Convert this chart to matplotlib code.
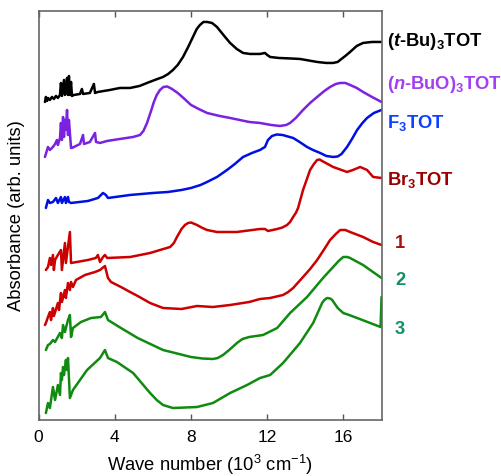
import matplotlib
matplotlib.use("Agg")
import matplotlib.pyplot as plt

plt.rcParams['font.family'] = ['Liberation Sans', 'DejaVu Sans']
plt.rcParams['mathtext.fontset'] = 'custom'
plt.rcParams['mathtext.rm'] = 'Liberation Sans'
plt.rcParams['mathtext.it'] = 'Liberation Sans:italic:bold'
plt.rcParams['mathtext.bf'] = 'Liberation Sans:bold'

# ---- data (wave number in 10^3 cm^-1, absorbance in arb. units, offset traces) ----
tbu_x = [0.33, 0.38, 0.44, 0.49, 0.59, 0.70, 0.80, 0.91, 1.01, 1.12, 1.17, 1.22, 1.33, 1.38, 1.43, 1.49, 1.54,
         1.59, 1.64, 1.70, 1.75, 1.85, 2.17, 2.27, 2.33, 2.69, 2.90, 2.96, 3.11, 3.74, 4.27, 4.80, 5.30, 5.69,
         6.10, 6.53, 6.80, 7.05, 7.30, 7.58, 7.85, 8.10, 8.30, 8.47, 8.65, 8.84, 9.10, 9.36, 9.70, 10.05,
         10.40, 10.73, 11.10, 11.62, 11.88, 12.00, 12.15, 12.60, 13.20, 13.72, 14.62, 15.10, 15.46, 15.70,
         15.83, 16.10, 16.35, 16.70, 17.03, 17.50, 18.0]
tbu_y = [318, 323, 319, 322, 320, 323, 321, 324, 322, 325, 337, 324, 340, 325, 330, 342, 325,
         344, 325, 338, 324, 325, 326, 331, 326, 327, 336, 327, 328, 330, 332, 332, 334, 337,
         340, 343, 346, 350, 355, 363, 373, 383, 391, 395, 398, 398, 397, 393, 385, 377,
         371, 367, 366, 366, 367, 365, 363, 362, 361.5, 361, 358, 357, 357, 358,
         360, 364, 368, 374, 377, 378, 378]

nbuo_x = [0.33, 0.49, 0.59, 0.75, 0.86, 0.96, 1.01, 1.12, 1.17, 1.22, 1.28, 1.33, 1.38, 1.43, 1.49, 1.54, 1.59,
          1.64, 1.70, 1.75, 2.17, 2.33, 2.38, 2.69, 2.96, 3.01, 3.22, 3.59, 4.27, 4.96, 5.32, 5.50, 5.69, 5.90,
          6.05, 6.20, 6.37, 6.55, 6.75, 7.00, 7.30, 7.60, 8.00, 8.40, 8.84, 9.50, 10.05, 11.05, 11.62, 12.20,
          12.67, 13.00, 13.20, 13.50, 13.88, 14.25, 14.62, 15.00, 15.30, 15.60, 15.83, 16.10, 16.35, 16.70,
          17.03, 17.50, 18.0]
nbuo_y = [263, 273, 270, 273, 276, 280, 275, 282, 297, 280, 303, 283, 300, 290, 310, 285, 300,
          287, 272, 272, 276, 285, 276, 278, 287, 278, 277, 279, 281, 283, 285, 289, 297, 309,
          318, 325, 330, 333, 333.5, 331, 327, 322, 315, 311, 307, 304, 302, 298, 297, 295,
          294, 295, 297, 302, 310, 317, 323, 329, 333, 336, 337, 337, 335, 332,
          328, 323, 318]

f3_x = [0.38, 0.49, 0.59, 0.75, 0.91, 1.01, 1.17, 1.22, 1.38, 1.43, 1.54, 1.59, 1.70, 2.59, 3.11, 3.38, 3.53,
        3.64, 4.80, 6.00, 6.79, 7.50, 8.00, 8.50, 8.84, 9.36, 9.89, 10.30, 10.73, 11.20, 11.62, 11.88, 12.04,
        12.25, 12.50, 12.80, 13.36, 13.70, 14.09, 14.40, 14.78, 15.10, 15.46, 15.70, 15.90, 16.19, 16.45,
        16.72, 17.00, 17.24, 17.60, 18.0]
f3_y = [212, 220, 217, 218, 222, 217, 223, 217, 223, 217, 223, 218, 217, 219, 222, 227, 225,
        222, 225, 227, 228, 230, 232, 235, 238, 243, 250, 256, 263, 267, 270, 273, 280,
        284, 285.5, 285, 282, 278, 273, 270, 267, 264, 263, 263.5, 266, 273, 281,
        290, 297, 302, 307, 310]

br3_x = [0.38, 0.49, 0.59, 0.65, 0.75, 0.80, 0.86, 1.01, 1.17, 1.22, 1.38, 1.43, 1.64, 1.70, 2.59, 3.00, 3.11,
         3.22, 3.38, 3.48, 3.60, 4.80, 5.85, 6.90, 7.10, 7.26, 7.50, 7.68, 7.85, 8.00, 8.31, 8.60, 8.84, 9.36,
         10.41, 11.62, 11.88, 12.04, 12.52, 12.80, 13.04, 13.20, 13.36, 13.50, 13.62, 13.88, 14.25, 14.45,
         14.62, 14.75, 14.88, 15.46, 16.19, 16.50, 16.88, 17.24, 17.56, 18.0]
br3_y = [150, 153, 162, 155, 165, 150, 160, 165, 170, 150, 177, 157, 188, 157, 160, 162, 165,
         158, 163, 165, 162, 163, 167, 173, 177, 183, 191, 195, 197, 197.5, 195, 192, 190, 188,
         188, 191, 191, 189, 191, 192.5, 195, 198, 203, 207, 212, 230, 250, 256,
         260, 260.5, 259, 253, 248, 250, 253, 250, 243, 242]

c1_x = [0.33, 0.38, 0.49, 0.59, 0.65, 0.75, 0.80, 1.01, 1.07, 1.17, 1.22, 1.38, 1.43, 1.54, 1.64, 1.70, 1.80,
        1.96, 2.43, 2.96, 3.22, 3.48, 3.64, 3.80, 4.32, 4.80, 5.20, 5.85, 6.53, 7.50, 8.31, 9.15, 10.05, 11.05,
        11.62, 12.15, 12.83, 13.10, 13.36, 13.88, 14.25, 14.62, 15.00, 15.30, 15.60, 15.83, 16.10, 16.35,
        17.03, 17.56, 18.0]
c1_y = [95, 97, 103, 108, 100, 112, 104, 117, 110, 127, 118, 130, 122, 137, 130, 138, 133,
        140, 145, 148, 150, 154, 142, 138, 133, 128, 124, 117, 112, 111, 114, 113, 115, 118,
        121, 122, 125, 128, 132, 143, 151, 160, 171, 180, 186, 190, 190, 188,
        183, 178, 175]

c2_x = [0.38, 0.49, 0.59, 0.75, 0.86, 1.12, 1.22, 1.28, 1.38, 1.43, 1.54, 1.64, 1.70, 1.80, 2.22, 2.75, 3.27,
        3.48, 3.64, 4.32, 5.20, 6.53, 8.00, 8.60, 9.15, 9.40, 9.68, 10.00, 10.41, 10.70, 11.05, 11.78, 12.52,
        13.20, 14.09, 14.62, 14.93, 15.46, 15.75, 15.99, 16.20, 16.35, 17.03, 18.0]
c2_y = [70, 75, 76, 80, 78, 87, 82, 95, 88, 92, 100, 105, 83, 92, 98, 102, 103,
        108, 100, 92, 82, 70, 63, 61.5, 61, 62, 65, 70, 77, 81, 83, 85, 92,
        107, 123, 135, 142, 153, 159, 163, 163, 162, 155, 142]

c3_x = [0.38, 0.49, 0.59, 0.75, 0.86, 1.01, 1.12, 1.17, 1.22, 1.28, 1.33, 1.43, 1.49, 1.54, 1.64, 1.80, 2.54,
        3.22, 3.48, 3.64, 4.11, 4.96, 5.85, 6.20, 6.53, 7.05, 8.31, 9.15, 10.05, 10.94, 11.62, 12.15, 12.83,
        13.72, 14.41, 14.88, 15.00, 15.14, 15.30, 15.41, 15.70, 15.99, 16.30, 16.72, 17.95, 17.98, 18.0]
c3_y = [7, 17, 12, 33, 20, 35, 25, 47, 40, 53, 45, 60, 50, 62, 22, 30, 50,
        62, 70, 62, 58, 47, 27, 20, 15, 12, 13, 17, 27, 35, 42, 45, 57,
        77, 97, 117, 120, 122, 121.5, 120, 112, 107, 105, 102, 93, 110, 123]

series = [
    (tbu_x, tbu_y, '#000000'),
    (nbuo_x, nbuo_y, '#7A22E0'),
    (f3_x, f3_y, '#0010E0'),
    (br3_x, br3_y, '#CC0000'),
    (c1_x, c1_y, '#CC0000'),
    (c2_x, c2_y, '#108A10'),
    (c3_x, c3_y, '#108A10'),
]

labels = [
    (r'($\mathit{t}$-Bu)$_{\mathbf{3}}$TOT', 18.29, 374, '#000000'),
    (r'($\mathit{n}$-BuO)$_{\mathbf{3}}$TOT', 18.29, 331, '#A040F0'),
    (r'F$_{\mathbf{3}}$TOT', 18.29, 292, '#1040FF'),
    (r'Br$_{\mathbf{3}}$TOT', 18.29, 235, '#990000'),
    ('1', 18.71, 172, '#AA1010'),
    ('2', 18.71, 135, '#109060'),
    ('3', 18.71, 86, '#109060'),
]

xticks = [0, 4, 8, 12, 16]

fig = plt.figure(figsize=(5.02, 4.76), dpi=100)
ax = fig.add_axes([0.077, 0.1176, 0.683, 0.8594])

for x, y, c in series:
    ax.plot(x, y, color=c, lw=1.8, solid_joinstyle='round', solid_capstyle='round')

for txt, x, y, c in labels:
    ax.text(x, y, txt, color=c, fontsize=13.2, fontweight='bold', ha='left', va='baseline', clip_on=False)

ax.set_xlim(0, 18)
ax.set_ylim(0, 409)
ax.set_xticks(xticks)
ax.set_xticklabels([str(t) for t in xticks])
ax.set_yticks([])
ax.tick_params(axis='x', direction='in', top=True, bottom=True, length=4, width=1, color='#555555',
               labelsize=12.5, pad=7)
for s in ax.spines.values():
    s.set_color('#666666')
    s.set_linewidth(1.2)

ax.set_xlabel('Wave number (10$^{3}$ cm$^{-1}$)', fontsize=13.2, labelpad=6)
ax.set_ylabel('Absorbance (arb. units)', fontsize=13.2, labelpad=10)

fig.savefig('out.png', dpi=100)
